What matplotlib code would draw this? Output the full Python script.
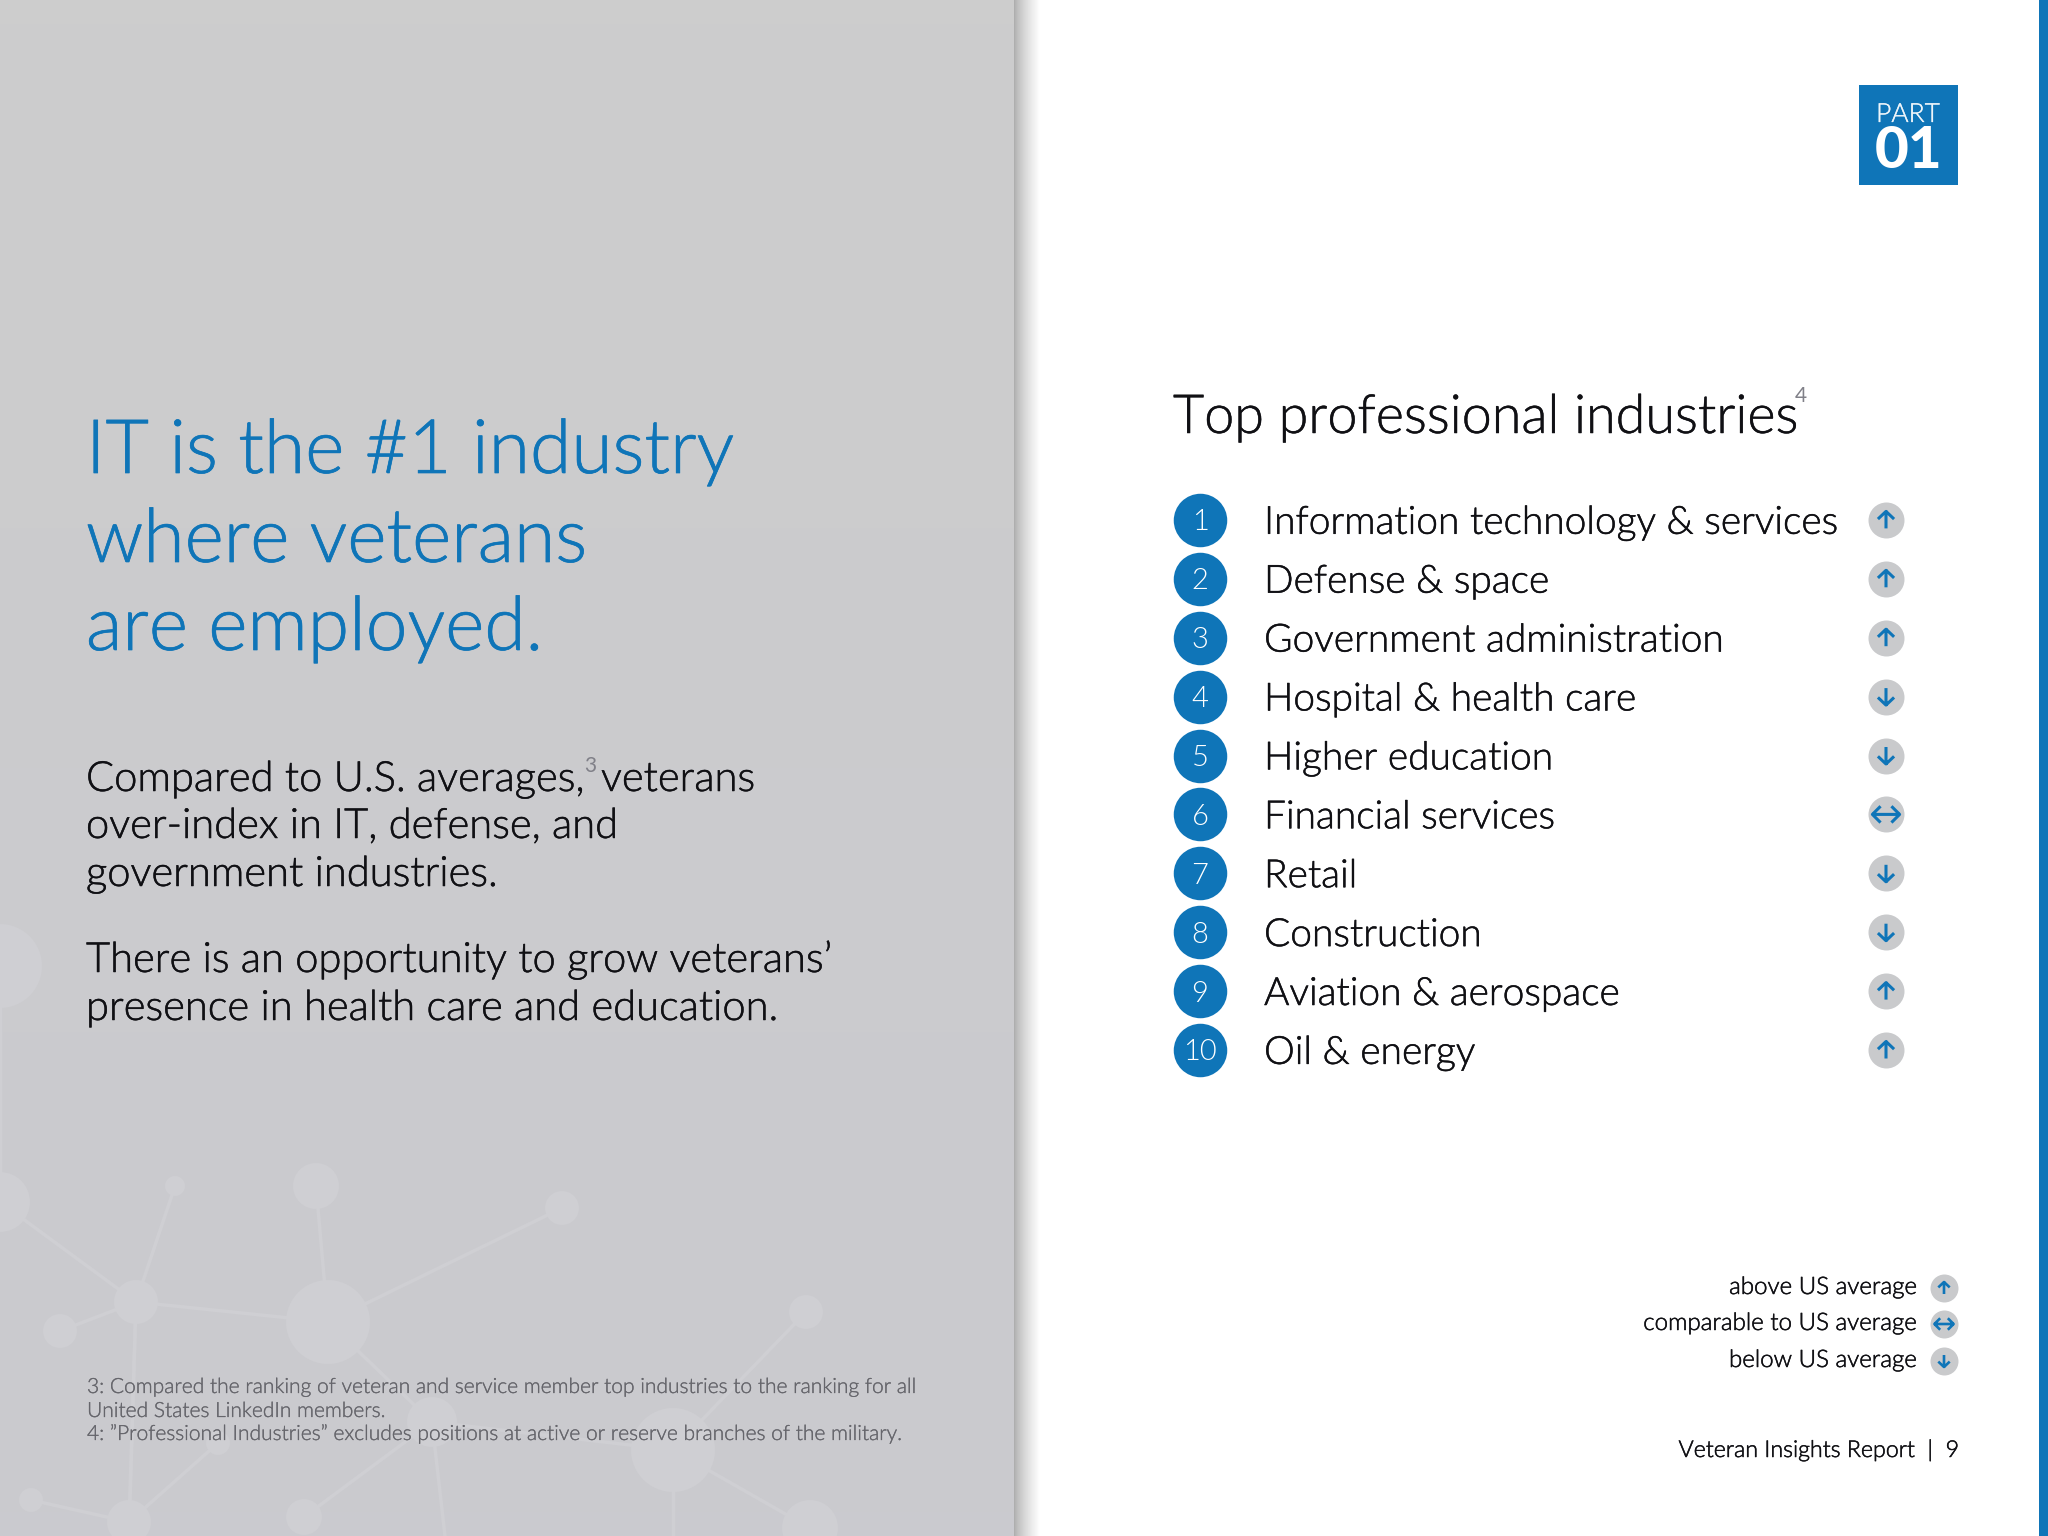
import numpy as np
import matplotlib
matplotlib.use("Agg")
import matplotlib.pyplot as plt
import matplotlib.patheffects as pe
from matplotlib.path import Path

BLUE = "#0f75b8"
INK = "#101014"
NODE = "#cfcfd3"
FONT = "Lato"

ranks = [1, 2, 3, 4, 5, 6, 7, 8, 9, 10]
industries = [
    "Information technology & services",
    "Defense & space",
    "Government administration",
    "Hospital & health care",
    "Higher education",
    "Financial services",
    "Retail",
    "Construction",
    "Aviation & aerospace",
    "Oil & energy",
]
trends = ["up", "up", "up", "down", "down", "same", "down", "down", "up", "up"]

legend_labels = ["above US average", "comparable to US average", "below US average"]
legend_trends = ["up", "same", "down"]
legend_y = [1288, 1324, 1361]

headline = ["IT is the #1 industry", "where veterans", "are employed."]
headline_y = [473, 562, 650]
para_lines = ["over-index in IT, defense, and", "government industries.",
              "There is an opportunity to grow veterans\u2019",
              "presence in health care and education."]
para_y = [838, 886, 972, 1020]
notes = ["3: Compared the ranking of veteran and service member top industries to the ranking for all",
         "United States LinkedIn members.",
         "4: \u201dProfessional Industries\u201d excludes positions at active or reserve branches of the military."]
notes_y = [1393, 1417, 1440]

# background molecule decoration
nodes_x = [0, 316, 175, 562, 136, 328, 60, 806, 432, 673, 129, 31, 304, 810, 218, 0]
nodes_y = [1202, 1186, 1186, 1208, 1302, 1322, 1331, 1312, 1422, 1450, 1522, 1500, 1517, 1528, 1443, 966]
nodes_r = [30, 23, 10, 17, 22, 42, 17, 17, 25, 42, 22, 12, 18, 28, 12, 42]
edges = [(0, 4), (2, 4), (1, 5), (3, 5), (4, 5), (6, 4), (4, 10), (5, 8), (8, 12),
         (8, 9), (7, 9), (9, 13), (14, 10), (11, 10), (15, 0)]

# arrow markers, drawn as open line paths
MV, LN = Path.MOVETO, Path.LINETO
arrow_up = Path([(0, -1), (0, 1), (-0.95, 0.1), (0, 1), (0.95, 0.1)], [MV, LN, LN, MV, LN])
arrow_down = Path([(0, 1), (0, -1), (-0.95, -0.1), (0, -1), (0.95, -0.1)], [MV, LN, LN, MV, LN])
arrow_same = Path([(-1, 0), (1, 0), (-0.4, 0.6), (-1, 0), (-0.4, -0.6), (0.4, 0.6), (1, 0), (0.4, -0.6)],
                  [MV, LN, MV, LN, LN, MV, LN, LN])
arrow_paths = {"up": arrow_up, "down": arrow_down, "same": arrow_same}


def put_arrow(axes, x, y, trend, length, lw):
    size = length * 1.6 if trend == "same" else length
    axes.scatter([x], [y], s=(size * 0.72) ** 2, marker=arrow_paths[trend], facecolor="none",
                 edgecolor=BLUE, lw=lw, zorder=3)


def put_text(axes, x, y, s, size, color=INK, heavy=0.35, **kw):
    t = axes.text(x, y, s, color=color, fontsize=size, family=FONT, weight=300, **kw)
    t.set_path_effects([pe.withStroke(linewidth=heavy, foreground=color)])
    return t


fig = plt.figure(figsize=(20.48, 15.36), dpi=100, facecolor="white")
ax = fig.add_axes([0, 0, 1, 1])
ax.axis("off")

# grey panel, page shadow and blue strip
panel = np.linspace(0, 1, 64).reshape(-1, 1, 1) * np.array([-3, -3, 2]) + np.array([205, 205, 205])
ax.imshow(panel / 255, extent=[0, 1014, 1536, 0], aspect="auto", zorder=0)
shadow = np.linspace(0, 1, 64) ** 0.75
shadow = (172 + (255 - 172) * shadow).reshape(1, -1) / 255
ax.imshow(shadow, extent=[1014, 1040, 1536, 0], aspect="auto", cmap="gray", vmin=0, vmax=1, zorder=0)
ax.set_xlim(0, 2048)
ax.set_ylim(1536, 0)
ax.fill_between([2039, 2048], 0, 1536, color=BLUE, lw=0, zorder=1)
ax.fill_between([1859, 1958], 85, 185, color=BLUE, lw=0, zorder=1)

# molecule
for a, b in edges:
    ax.plot([nodes_x[a], nodes_x[b]], [nodes_y[a], nodes_y[b]], color=NODE, lw=2.5, zorder=1,
            solid_capstyle="round")
ax.plot([136, 129], [1302, 1536], color=NODE, lw=2.5, zorder=1)
ax.plot([432, 445], [1422, 1536], color=NODE, lw=2.5, zorder=1)
ax.plot([673, 673], [1450, 1536], color=NODE, lw=2.5, zorder=1)
ax.scatter(nodes_x, nodes_y, s=[(2 * r * 0.72) ** 2 for r in nodes_r], color=NODE, lw=0, zorder=2)

# left page text
for line, y in zip(headline, headline_y):
    put_text(ax, 86, y, line, 54, color=BLUE, heavy=0.5, va="baseline")
put_text(ax, 86, 791, "Compared to U.S. averages,", 30, va="baseline")
put_text(ax, 601, 791, "veterans", 30, va="baseline")
ax.text(584, 772, "3", color="#808088", fontsize=15, family=FONT, va="baseline")
for line, y in zip(para_lines, para_y):
    put_text(ax, 86, y, line, 30, va="baseline")
for line, y in zip(notes, notes_y):
    put_text(ax, 87, y, line, 15.1, color="#66666c", heavy=0.2, va="baseline")

# part badge
put_text(ax, 1908, 122, "PART", 19, color="#eef5fa", heavy=0.2, ha="center", va="baseline")
ax.text(1909, 168, "01", color="white", fontsize=42, family=FONT, weight=900, ha="center", va="baseline")

# right page title
put_text(ax, 1173, 433, "Top professional industries", 38.8, va="baseline")
ax.text(1795, 402, "4", color="#808088", fontsize=15, family=FONT, va="baseline")

# ranked list, on its own axes so that the rank is the y scale
row = 58.9
list_ax = fig.add_axes([0, 1 - (1050 + row / 2) / 1536, 1, 10 * row / 1536])
list_ax.set_xlim(0, 2048)
list_ax.set_ylim(10.5, 0.5)
list_ax.axis("off")
list_ax.patch.set_alpha(0)
list_ax.scatter([1200] * len(ranks), ranks, s=(53.5 * 0.72) ** 2, color=BLUE, lw=0, zorder=2)
list_ax.scatter([1886] * len(ranks), ranks, s=(36 * 0.72) ** 2, color="#c9cacc", lw=0, zorder=2)
for r, name, t in zip(ranks, industries, trends):
    list_ax.text(1200, r, str(r), color="white", fontsize=21, family=FONT, weight=300,
                 ha="center", va="center_baseline", zorder=3)
    put_text(list_ax, 1264, r - 0.01, name, 28, va="center_baseline", zorder=3)
    put_arrow(list_ax, 1886, r, t, 17, 2.2)

# legend and footer
for label, t, y in zip(legend_labels, legend_trends, legend_y):
    put_text(ax, 1917, y + 6, label, 17.35, ha="right", va="baseline")
    ax.scatter([1944], [y], s=(28 * 0.72) ** 2, color="#c9cacc", lw=0, zorder=2)
    put_arrow(ax, 1944, y, t, 12, 1.9)
put_text(ax, 1958, 1457, "Veteran Insights Report  |  9", 16.7, ha="right", va="baseline")

fig.savefig("out.png", dpi=100)
